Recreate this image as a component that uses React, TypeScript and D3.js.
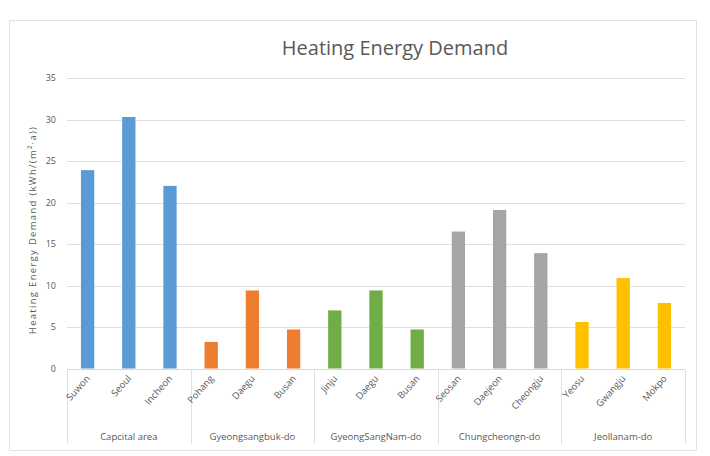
import * as d3 from 'd3';
import { useEffect, useRef } from 'react';

const regions = ['Capcital area', 'Gyeongsangbuk-do', 'GyeongSangNam-do', 'Chungcheongn-do', 'Jeollanam-do'];
const regionColors = ['#5b9bd5', '#ed7d31', '#70ad47', '#a5a5a5', '#ffc000'];
const cities = [
  ['Suwon', 'Seoul', 'Incheon'],
  ['Pohang', 'Daegu', 'Busan'],
  ['Jinju', 'Daegu', 'Busan'],
  ['Seosan', 'Daejeon', 'Cheongju'],
  ['Yeosu', 'Gwangju', 'Mokpo'],
];
const demand = [
  [23.9, 30.3, 22.0],
  [3.2, 9.4, 4.7],
  [7.0, 9.4, 4.7],
  [16.5, 19.1, 13.9],
  [5.6, 10.9, 7.9],
];
const yTicks = [0, 5, 10, 15, 20, 25, 30, 35];

const W = 710;
const H = 456;
const FONT = '"Open Sans", "Noto Sans", sans-serif';
const TEXT = '#595959';

const App = () => {
  const ref = useRef<SVGSVGElement>(null);

  useEffect(() => {
    const svg = d3.select(ref.current);
    svg.selectAll('*').remove();

    const margin = { top: 78, right: 25, bottom: 87.5, left: 67 };

    const rows = regions.flatMap((r, gi) =>
      cities[gi].map((c, ci) => ({ key: `${gi}-${ci}`, city: c, region: r, gi, value: demand[gi][ci] })),
    );

    const x = d3
      .scaleBand()
      .domain(rows.map((d) => d.key))
      .range([margin.left, W - margin.right])
      .paddingInner(0.677)
      .paddingOuter(0.677 / 2);

    const y = d3
      .scaleLinear()
      .domain([0, 35])
      .range([H - margin.bottom, margin.top]);

    // chart frame
    svg
      .append('rect')
      .attr('x', 9.5)
      .attr('y', 20.5)
      .attr('width', 687)
      .attr('height', 430)
      .attr('fill', '#fff')
      .attr('stroke', '#e2e2e2');

    svg
      .append('text')
      .attr('x', 395)
      .attr('y', 55)
      .attr('text-anchor', 'middle')
      .attr('font-family', FONT)
      .attr('font-size', 20)
      .attr('fill', TEXT)
      .text('Heating Energy Demand');

    // gridlines + y tick labels
    const grid = svg.append('g');
    grid
      .selectAll('line')
      .data(yTicks.slice(1))
      .join('line')
      .attr('x1', margin.left)
      .attr('x2', W - margin.right)
      .attr('y1', (d) => Math.round(y(d)) + 0.5)
      .attr('y2', (d) => Math.round(y(d)) + 0.5)
      .attr('stroke', '#e0e0e0');
    grid
      .selectAll('text')
      .data(yTicks)
      .join('text')
      .attr('x', 56)
      .attr('y', (d) => y(d) + 3)
      .attr('text-anchor', 'end')
      .attr('font-family', FONT)
      .attr('font-size', 9)
      .attr('fill', TEXT)
      .text((d) => d);

    svg
      .append('text')
      .attr('transform', `translate(36,230) rotate(-90)`)
      .attr('text-anchor', 'middle')
      .attr('font-family', FONT)
      .attr('font-size', 9.5)
      .attr('letter-spacing', 1.3)
      .attr('fill', TEXT)
      .text('Heating Energy Demand (kWh/(m²·a))');

    // bars
    svg
      .append('g')
      .selectAll('rect')
      .data(rows)
      .join('rect')
      .attr('x', (d) => x(d.key))
      .attr('width', x.bandwidth())
      .attr('y', (d) => y(d.value))
      .attr('height', (d) => y(0) - y(d.value))
      .attr('fill', (d) => regionColors[d.gi]);

    // category axis
    const base = Math.round(y(0)) + 0.5;
    svg
      .append('line')
      .attr('x1', margin.left)
      .attr('x2', W - margin.right)
      .attr('y1', base)
      .attr('y2', base)
      .attr('stroke', '#d9d9d9');

    const step = x.step();
    const bounds = d3.range(regions.length + 1).map((i) => margin.left + i * 3 * step);
    svg
      .append('g')
      .selectAll('line')
      .data(bounds)
      .join('line')
      .attr('x1', (d) => Math.round(d) + 0.5)
      .attr('x2', (d) => Math.round(d) + 0.5)
      .attr('y1', base)
      .attr('y2', 444)
      .attr('stroke', '#e0e0e0');

    svg
      .append('g')
      .selectAll('text')
      .data(rows)
      .join('text')
      .attr('transform', (d) => `translate(${x(d.key) + x.bandwidth() / 2 + 3},379) rotate(-48)`)
      .attr('text-anchor', 'end')
      .attr('font-family', FONT)
      .attr('font-size', 9.5)
      .attr('fill', TEXT)
      .text((d) => d.city);

    svg
      .append('g')
      .selectAll('text')
      .data(regions)
      .join('text')
      .attr('x', (d, i) => (bounds[i] + bounds[i + 1]) / 2)
      .attr('y', 440)
      .attr('text-anchor', 'middle')
      .attr('font-family', FONT)
      .attr('font-size', 9.5)
      .attr('fill', TEXT)
      .text((d) => d);
  }, []);

  return (
    <svg
      ref={ref}
      width={W}
      height={H}
      viewBox={`0 0 ${W} ${H}`}
      style={{ position: 'absolute', left: 0, top: 0, background: '#fff' }}
    />
  );
};

export default App;
